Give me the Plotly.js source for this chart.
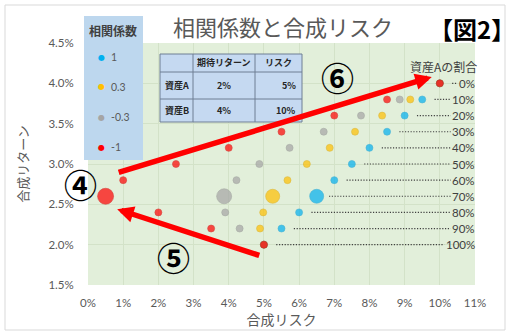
<!DOCTYPE html>
<html>
<head>
<meta charset="utf-8">
<script src="https://cdn.plot.ly/plotly-3.0.1.min.js"></script>
<style>html,body{margin:0;padding:0;background:#fff;}#chart{width:520px;height:336px;}</style>
</head>
<body>
<div id="chart"></div>
<script>
// ---- data ----
const weightsA = [0, 10, 20, 30, 40, 50, 60, 70, 80, 90, 100];          // 資産Aの割合 (%)
const portReturn = [4.0, 3.8, 3.6, 3.4, 3.2, 3.0, 2.8, 2.6, 2.4, 2.2, 2.0]; // 合成リターン (%)
const riskCorrP1  = [10, 9.5, 9.0, 8.5, 8.0, 7.5, 7.0, 6.5, 6.0, 5.5, 5.0];
const riskCorrP03 = [10, 9.16, 8.36, 7.59, 6.87, 6.22, 5.67, 5.25, 4.98, 4.89, 5.0];
const riskCorrM03 = [10, 8.86, 7.76, 6.70, 5.73, 4.87, 4.22, 3.87, 3.90, 4.31, 5.0];
const riskCorrM1  = [10, 8.5, 7.0, 5.5, 4.0, 2.5, 1.0, 0.5, 2.0, 3.5, 5.0];
const corrLabels = ['1', '0.3', '-0.3', '-1'];
const tableHeader = ['', '期待リターン', 'リスク'];
const assetNames = ['資産A', '資産B'];
const assetReturn = ['2%', '4%'];
const assetRisk = ['5%', '10%'];
const highlightWeight = 70;

// ---- geometry helpers (plot area in pixels) ----
const L = 88, R = 475, T = 43, B = 285;
const PW = R - L, PH = B - T;
const px2x = p => (p - L) / PW;
const py2y = p => (B - p) / PH;

const FONT = 'Lato, "Noto Sans CJK JP", sans-serif';
const JP = '"Noto Sans CJK JP", sans-serif';

const seriesRisk = [riskCorrP1, riskCorrP03, riskCorrM03, riskCorrM1];
const colors = ['#00b0f0', '#ffc000', '#a5a5a5', '#ff0000'];
const borders = ['#0a9ad0', '#d9a300', '#8f8f8f', '#d00000'];
const bigSizes = [14, 14, 15, 16];

const traces = seriesRisk.map((risk, s) => ({
  type: 'scatter', mode: 'markers',
  x: risk, y: portReturn, name: corrLabels[s],
  marker: {
    color: colors[s],
    size: weightsA.map(w => w === highlightWeight ? bigSizes[s] : 7),
    line: {width: 0.6, color: borders[s]}
  },
  hoverinfo: 'skip', showlegend: false, cliponaxis: false
}));

const shapes = [];
const annotations = [];

// outer frame
shapes.push({type:'rect', xref:'paper', yref:'paper', x0:px2x(5), x1:px2x(505), y0:py2y(330), y1:py2y(5),
  line:{color:'#d9d9d9', width:1}, fillcolor:'rgba(0,0,0,0)', layer:'below'});

// leaders and weight labels
weightsA.forEach((w, i) => {
  const label = w + '%';
  const startX = Math.max(...seriesRisk.map(r => r[i])) + 0.35;
  const textW = (label.length - 1) * 6.4 + 9.5;
  const endX = (476 - textW - 3 - L) / (PW / 11);
  shapes.push({type:'line', xref:'x', yref:'y', x0:startX, x1:endX, y0:portReturn[i], y1:portReturn[i],
    line:{color:'#404040', width:1.2, dash:'1.2px,1.6px'}});
  annotations.push({xref:'paper', yref:'y', x:px2x(477), y:portReturn[i], xanchor:'right', yanchor:'middle',
    text:label, showarrow:false, font:{family:FONT, size:11.5, color:'#404040'}});
});
annotations.push({xref:'paper', yref:'paper', x:px2x(443), y:py2y(66), xanchor:'center', yanchor:'middle',
  text:'資産Aの割合', showarrow:false, font:{family:JP, size:12, color:'#404040'}});

// legend box (manual)
shapes.push({type:'rect', xref:'paper', yref:'paper', x0:px2x(84), x1:px2x(143), y0:py2y(160), y1:py2y(16),
  fillcolor:'#bdd7ee', line:{width:0}, layer:'above'});
annotations.push({xref:'paper', yref:'paper', x:px2x(113), y:py2y(30), text:'<b>相関係数</b>', showarrow:false,
  xanchor:'center', yanchor:'middle', font:{family:JP, size:12, color:'#404040'}});
const legY = [57, 87, 117, 147];
corrLabels.forEach((lab, s) => {
  annotations.push({xref:'paper', yref:'paper', x:px2x(101), y:py2y(legY[s]), text:'●', showarrow:false,
    xanchor:'center', yanchor:'middle', font:{family:'DejaVu Sans', size:8, color:colors[s]}});
  annotations.push({xref:'paper', yref:'paper', x:px2x(109), y:py2y(legY[s]), text:lab, showarrow:false,
    xanchor:'left', yanchor:'middle', font:{family:FONT, size:10.5, color:'#595959'}});
});

// table (manual)
const colX = [160, 193, 255, 302];
const rowY = [54, 72, 99, 122];
shapes.push({type:'rect', xref:'paper', yref:'paper', x0:px2x(colX[0]), x1:px2x(colX[3]), y0:py2y(rowY[3]), y1:py2y(rowY[0]),
  fillcolor:'#c5d9f1', line:{color:'#6f7f94', width:1}, layer:'above'});
[colX[1], colX[2]].forEach(cx => shapes.push({type:'line', xref:'paper', yref:'paper', x0:px2x(cx), x1:px2x(cx),
  y0:py2y(rowY[3]), y1:py2y(rowY[0]), line:{color:'#6f7f94', width:1}, layer:'above'}));
[rowY[1], rowY[2]].forEach(ry => shapes.push({type:'line', xref:'paper', yref:'paper', x0:px2x(colX[0]), x1:px2x(colX[3]),
  y0:py2y(ry), y1:py2y(ry), line:{color:'#6f7f94', width:1}, layer:'above'}));
const tfont = {family:JP, size:9, color:'#262626'};
const rowMid = r => (rowY[r] + rowY[r + 1]) / 2;
const colMid = c => (colX[c] + colX[c + 1]) / 2;
tableHeader.forEach((h, c) => { if (h) annotations.push({xref:'paper', yref:'paper', x:px2x(colMid(c)), y:py2y(rowMid(0)),
  text:'<b>' + h + '</b>', showarrow:false, xanchor:'center', yanchor:'middle', font:tfont}); });
assetNames.forEach((n, r) => {
  annotations.push({xref:'paper', yref:'paper', x:px2x(colMid(0)), y:py2y(rowMid(r + 1)), text:'<b>' + n + '</b>',
    showarrow:false, xanchor:'center', yanchor:'middle', font:tfont});
  annotations.push({xref:'paper', yref:'paper', x:px2x(colMid(1)), y:py2y(rowMid(r + 1)), text:'<b>' + assetReturn[r] + '</b>',
    showarrow:false, xanchor:'center', yanchor:'middle', font:tfont});
  annotations.push({xref:'paper', yref:'paper', x:px2x(298), y:py2y(rowMid(r + 1)), text:'<b>' + assetRisk[r] + '</b>',
    showarrow:false, xanchor:'right', yanchor:'middle', font:tfont});
});

// red arrows
annotations.push({xref:'x', yref:'y', axref:'x', ayref:'y', x:9.77, y:4.08, ax:0.83, ay:2.89, text:'',
  showarrow:true, arrowhead:2, arrowsize:0.6, arrowwidth:5.5, arrowcolor:'#ff0000', standoff:0});
annotations.push({xref:'x', yref:'y', axref:'x', ayref:'y', x:0.83, y:2.44, ax:4.91, ay:1.86, text:'',
  showarrow:true, arrowhead:2, arrowsize:0.6, arrowwidth:5.5, arrowcolor:'#ff0000', standoff:0});

// circled numbers
const circ = [['④', 80, 184], ['⑤', 173, 257], ['⑥', 337, 77]];
circ.forEach(([t, x, y]) => annotations.push({xref:'paper', yref:'paper', x:px2x(x), y:py2y(y), text:'<b>' + t + '</b>', showarrow:false,
  xanchor:'center', yanchor:'middle', font:{family:JP, size:33, color:'#000000'}}));

// 【図2】
annotations.push({xref:'paper', yref:'paper', x:px2x(472), y:py2y(28), text:'<b>【図2】</b>', showarrow:false,
  xanchor:'center', yanchor:'middle', font:{family:JP, size:24, color:'#000000'}});

const layout = {
  width: 520, height: 336,
  margin: {l: L, r: 520 - R, t: T, b: 336 - B, pad: 0},
  paper_bgcolor: '#ffffff', plot_bgcolor: '#e2efda',
  font: {family: FONT, color: '#595959'},
  title: {text: '相関係数と合成リスク', x: 283 / 520, xref: 'container', xanchor: 'center',
    y: 1 - 28 / 336, yref: 'container', yanchor: 'middle', font: {family: JP, size: 22, color: '#595959'}},
  showlegend: false,
  xaxis: {range: [0, 11], dtick: 1, tick0: 0, ticksuffix: '%', showgrid: true, gridcolor: '#d3e2c8', gridwidth: 1,
    zeroline: false, showline: false, ticks: 'outside', ticklen: 7, tickcolor: 'rgba(0,0,0,0)',
    tickfont: {family: FONT, size: 11.5, color: '#595959'},
    title: {text: '合成リスク', font: {family: JP, size: 14, color: '#595959'}, standoff: 3}, fixedrange: true},
  yaxis: {range: [1.5, 4.5], dtick: 0.5, tick0: 1.5, tickformat: '.1f', ticksuffix: '%', showgrid: true,
    gridcolor: '#d3e2c8', gridwidth: 1, zeroline: false, showline: false, ticks: 'outside', ticklen: 11,
    tickcolor: 'rgba(0,0,0,0)', tickfont: {family: FONT, size: 11.5, color: '#595959'},
    title: {text: '合成リターン', font: {family: JP, size: 13, color: '#595959'}, standoff: 16}, fixedrange: true},
  shapes: shapes,
  annotations: annotations
};

Plotly.newPlot('chart', traces, layout, {displayModeBar: false, staticPlot: true});
</script>
</body>
</html>
